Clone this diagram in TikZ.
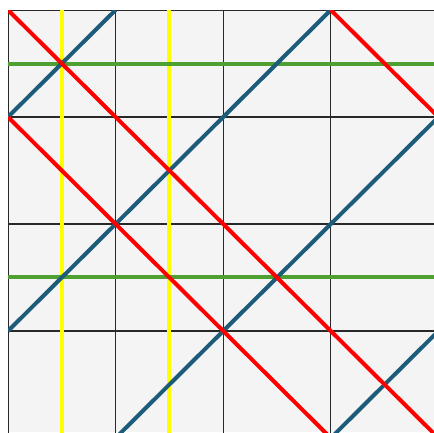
\documentclass[tikz,border=0pt]{standalone}
\usepackage{tikz}
\usepackage{xcolor}

\begin{document}
\begin{tikzpicture}[x=0.75pt,y=0.75pt,yscale=-1,xscale=1]
\path (0,0) rectangle (434,432); %set diagram size 434 x 432

%Shape: Rectangle
\fill [color={rgb, 255:red, 244; green, 244; blue, 244 }  ,fill opacity=1 ] (8,10) rectangle (434,432) ;

\begin{scope}
\clip (8,10) rectangle (434,432) ;

%Grid Lines
\foreach \k in {0,...,4} {
  \draw [color={rgb, 255:red, 40; green, 40; blue, 40 }  ,line width=0.9 ]   (8+107.6*\k,10) -- (8+107.6*\k,440) ;
  \draw [color={rgb, 255:red, 40; green, 40; blue, 40 }  ,line width=0.9 ]   (8,10+107*\k) -- (440,10+107*\k) ;
}

%Straight Lines (yellow)
\draw [color={rgb, 255:red, 255; green, 255; blue, 0 }  ,draw opacity=1 ][line width=3]    (61.5,10) -- (61.5,440) ;
\draw [color={rgb, 255:red, 255; green, 255; blue, 0 }  ,draw opacity=1 ][line width=3]    (169,10) -- (169,440) ;

%Straight Lines (green)
\draw [color={rgb, 255:red, 78; green, 160; blue, 48 }  ,draw opacity=1 ][line width=3]    (8,64) -- (440,64) ;
\draw [color={rgb, 255:red, 78; green, 160; blue, 48 }  ,draw opacity=1 ][line width=3]    (8,277) -- (440,277) ;

%Straight Lines (blue)
\draw [color={rgb, 255:red, 28; green, 92; blue, 122 }  ,draw opacity=1 ][line width=3]    (8,117) -- (115.6,10) ;
\draw [color={rgb, 255:red, 28; green, 92; blue, 122 }  ,draw opacity=1 ][line width=3]    (8,331) -- (330.8,10) ;
\draw [color={rgb, 255:red, 28; green, 92; blue, 122 }  ,draw opacity=1 ][line width=3]    (115.6,438) -- (438.4,117) ;
\draw [color={rgb, 255:red, 28; green, 92; blue, 122 }  ,draw opacity=1 ][line width=3]    (330.8,438) -- (438.4,331) ;

%Straight Lines (red)
\draw [color={rgb, 255:red, 255; green, 0; blue, 0 }  ,draw opacity=1 ][line width=3]    (8,10) -- (438.4,438) ;
\draw [color={rgb, 255:red, 255; green, 0; blue, 0 }  ,draw opacity=1 ][line width=3]    (8,117) -- (330.8,438) ;
\draw [color={rgb, 255:red, 255; green, 0; blue, 0 }  ,draw opacity=1 ][line width=3]    (330.8,10) -- (438.4,117) ;
\end{scope}

\end{tikzpicture}
\end{document}
